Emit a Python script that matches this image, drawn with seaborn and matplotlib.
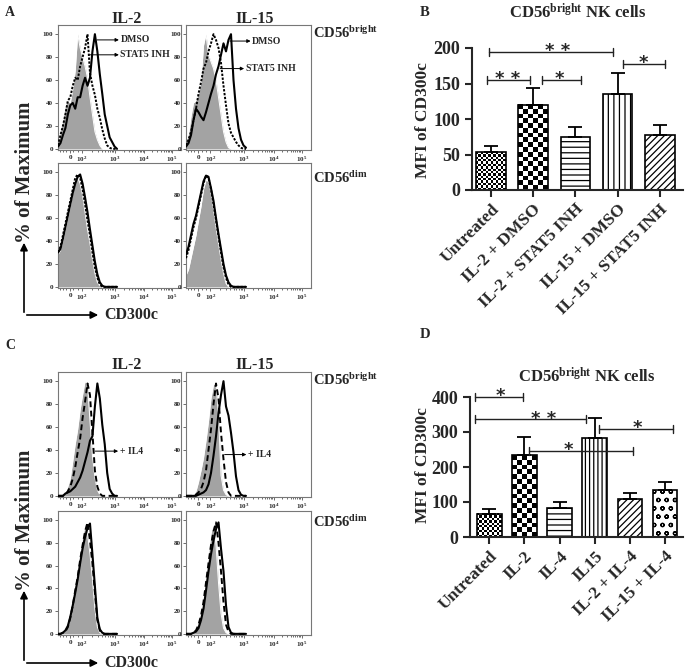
import matplotlib
matplotlib.use("Agg")
import matplotlib.pyplot as plt
import numpy as np
import seaborn as sns

sns.set_theme(style="ticks")
plt.rcParams["font.family"] = ["Liberation Serif", "DejaVu Serif"]
plt.rcParams["font.weight"] = "bold"
plt.rcParams["mathtext.fontset"] = "custom"
plt.rcParams["mathtext.rm"] = "Liberation Serif:bold"
plt.rcParams["mathtext.bf"] = "Liberation Serif:bold"
plt.rcParams["mathtext.it"] = "Liberation Serif:bold:italic"
plt.rcParams["mathtext.default"] = "bf"
plt.rcParams["hatch.linewidth"] = 0.9

# ---- histogram data (% of max vs. display channel) ----
CHANNEL = [0, 20, 40, 60, 80, 100, 120, 140, 160, 180, 200, 220, 240,
           260, 280, 300, 320, 340, 360, 380, 400, 420, 440, 460, 480]

A_IL2_BRIGHT_CTRL = [5, 15, 25, 38, 42, 40, 52, 68, 100, 88, 80, 72, 62, 45, 30, 15, 8, 3, 0, 0, 0, 0, 0, 0, 0]
A_IL2_BRIGHT_STAT5 = [3, 12, 20, 30, 42, 45, 55, 62, 60, 72, 80, 88, 100, 66, 55, 47, 35, 27, 17, 9, 3, 1, 0, 0, 0]
A_IL2_BRIGHT_DMSO = [2, 5, 12, 18, 30, 38, 40, 35, 45, 45, 55, 62, 55, 62, 85, 100, 85, 65, 48, 30, 20, 10, 6, 2, 0]

A_IL15_BRIGHT_CTRL = [5, 12, 28, 40, 42, 48, 58, 90, 100, 82, 76, 70, 60, 45, 30, 15, 6, 1, 0, 0, 0, 0, 0, 0, 0]
A_IL15_BRIGHT_STAT5 = [3, 8, 15, 25, 35, 48, 58, 70, 75, 85, 92, 100, 95, 88, 75, 55, 38, 22, 14, 10, 6, 3, 1, 0, 0]
A_IL15_BRIGHT_DMSO = [2, 5, 12, 25, 35, 32, 28, 25, 32, 40, 48, 55, 65, 72, 82, 92, 85, 95, 100, 60, 35, 18, 8, 3, 1]

A_IL2_DIM_CTRL = [28, 32, 40, 50, 60, 70, 82, 92, 95, 90, 80, 65, 50, 38, 24, 12, 4, 1, 0, 0, 0, 0, 0, 0, 0]
A_IL2_DIM_STAT5 = [30, 35, 45, 55, 65, 75, 85, 95, 98, 95, 85, 72, 58, 45, 30, 17, 8, 2, 0, 0, 0, 0, 0, 0, 0]
A_IL2_DIM_DMSO = [30, 33, 42, 52, 62, 72, 82, 90, 96, 98, 90, 78, 65, 50, 36, 22, 11, 4, 1, 0, 0, 0, 0, 0, 0]

A_IL15_DIM_CTRL = [10, 15, 25, 35, 45, 58, 70, 85, 93, 92, 82, 68, 52, 38, 24, 12, 3, 0, 0, 0, 0, 0, 0, 0, 0]
A_IL15_DIM_STAT5 = [25, 32, 42, 52, 60, 70, 80, 90, 97, 95, 85, 72, 58, 44, 30, 17, 8, 2, 0, 0, 0, 0, 0, 0, 0]
A_IL15_DIM_DMSO = [28, 35, 45, 55, 62, 72, 82, 92, 97, 96, 86, 75, 60, 46, 33, 20, 10, 4, 1, 0, 0, 0, 0, 0, 0]

C_IL2_BRIGHT_CTRL = [0, 0, 1, 3, 8, 15, 30, 45, 58, 75, 88, 100, 97, 65, 35, 16, 5, 1, 0, 0, 0, 0, 0, 0, 0]
C_IL2_BRIGHT_IL4 = [0, 0, 0, 1, 4, 8, 15, 25, 38, 50, 68, 82, 98, 88, 55, 22, 8, 2, 0, 0, 0, 0, 0, 0, 0]
C_IL2_BRIGHT_CYT = [0, 0, 0, 2, 3, 4, 6, 8, 12, 16, 22, 30, 38, 48, 52, 78, 98, 85, 62, 45, 20, 6, 2, 0, 0]

C_IL15_BRIGHT_CTRL = [0, 0, 0, 1, 4, 12, 22, 33, 48, 65, 85, 97, 98, 70, 18, 5, 1, 0, 0, 0, 0, 0, 0, 0, 0]
C_IL15_BRIGHT_IL4 = [0, 0, 0, 0, 1, 3, 6, 12, 22, 40, 58, 80, 98, 85, 55, 32, 12, 3, 0, 0, 0, 0, 0, 0, 0]
C_IL15_BRIGHT_CYT = [0, 0, 0, 0, 0, 1, 2, 3, 5, 10, 20, 35, 52, 72, 88, 100, 78, 70, 55, 38, 17, 5, 1, 0, 0]

C_IL2_DIM_CTRL = [0, 0, 1, 3, 8, 16, 28, 40, 52, 70, 85, 95, 88, 70, 48, 22, 6, 1, 0, 0, 0, 0, 0, 0, 0]
C_IL2_DIM_IL4 = [0, 0, 1, 2, 6, 14, 25, 38, 50, 65, 78, 90, 98, 82, 62, 36, 12, 3, 0, 0, 0, 0, 0, 0, 0]
C_IL2_DIM_CYT = [0, 0, 1, 3, 7, 15, 25, 36, 48, 62, 75, 85, 93, 97, 70, 42, 14, 4, 1, 0, 0, 0, 0, 0, 0]

C_IL15_DIM_CTRL = [0, 0, 0, 2, 5, 10, 18, 30, 48, 70, 88, 97, 78, 45, 18, 5, 1, 0, 0, 0, 0, 0, 0, 0, 0]
C_IL15_DIM_IL4 = [0, 0, 0, 1, 3, 8, 16, 28, 45, 62, 78, 90, 98, 80, 55, 28, 8, 2, 0, 0, 0, 0, 0, 0, 0]
C_IL15_DIM_CYT = [0, 0, 0, 1, 2, 5, 12, 22, 38, 55, 70, 82, 92, 98, 75, 55, 25, 6, 1, 0, 0, 0, 0, 0, 0]

HIST_XTICKS = [98, 194, 462, 700, 926]
HIST_XLABELS = ["0", "$10^2$", "$10^3$", "$10^4$", "$10^5$"]
HIST_YTICKS = [0, 20, 40, 60, 80, 100]

# ---- bar data ----
B_LABELS = ["Untreated", "IL-2 + DMSO", "IL-2 + STAT5 INH", "IL-15 + DMSO", "IL-15 + STAT5 INH"]
B_MEAN = [53, 120, 75, 135.5, 77.5]
B_SEM = [9.5, 24, 13.5, 29, 13.5]
B_SIG_X0 = [-0.05, -0.09, 1.20, 3.13]
B_SIG_X1 = [2.89, 0.92, 2.14, 4.12]
B_SIG_Y = [195, 155, 155, 177]
B_SIG_STAR_X = [1.57, 0.40, 1.62, 3.62]
B_SIG_TEXT = ["* *", "* *", "*", "*"]

D_LABELS = ["Untreated", "IL-2", "IL-4", "IL15", "IL-2 + IL-4", "IL-15 + IL-4"]
D_MEAN = [67, 233, 82, 284, 108, 133]
D_SEM = [12, 53, 17, 57, 19, 25]
D_SIG_X0 = [-0.41, -0.41, 1.13, 3.13]
D_SIG_X1 = [0.96, 2.75, 4.10, 5.22]
D_SIG_Y = [400, 336, 247, 309]
D_SIG_STAR_X = [0.32, 1.55, 2.24, 4.22]
D_SIG_TEXT = ["*", "* *", "*", "*"]

W, H = 685, 671
fig = plt.figure(figsize=(W / 100, H / 100), dpi=100)


def px_axes(x0, y0, x1, y1):
    return fig.add_axes([x0 / W, 1 - y1 / H, (x1 - x0) / W, (y1 - y0) / H])


def ftext(x, y, s, **kw):
    fig.text(x / W, 1 - y / H, s, **kw)


def farrow(x0, y0, x1, y1):
    fig.add_artist(matplotlib.patches.FancyArrowPatch(
        (x0 / W, 1 - y0 / H), (x1 / W, 1 - y1 / H), transform=fig.transFigure,
        arrowstyle="-|>", mutation_scale=11, color="black", lw=1.2))


def draw_hist(ax, ctrl, treat, base, treat_style):
    ax.fill_between(CHANNEL, ctrl, color="#a3a3a3", linewidth=0, zorder=1)
    sns.lineplot(x=CHANNEL, y=ctrl, ax=ax, color="white", linewidth=0.7, zorder=2)
    sns.lineplot(x=CHANNEL, y=treat, ax=ax, color="black", linewidth=1.4,
                 linestyle=treat_style, zorder=3)
    sns.lineplot(x=CHANNEL, y=base, ax=ax, color="black", linewidth=1.5, zorder=4)
    ax.set_xlim(0, 1000)
    ax.set_ylim(-1, 108)
    ax.set_xticks(HIST_XTICKS)
    ax.set_xticklabels(HIST_XLABELS)
    minor = [15, 40, 65, 125, 160]
    for a, b in zip(HIST_XTICKS[1:], HIST_XTICKS[2:]):
        minor += [a + (b - a) * np.log10(m) for m in range(2, 10)]
    ax.set_xticks(minor, minor=True)
    ax.set_yticks(HIST_YTICKS)
    ax.tick_params(axis="both", which="both", direction="out", width=0.6,
                   color="#555555", labelsize=5, pad=1)
    ax.tick_params(axis="both", which="major", length=2.5)
    ax.tick_params(axis="x", which="minor", length=1.5)
    for sp in ax.spines.values():
        sp.set_color("#777777")
        sp.set_linewidth(0.8)
    ax.set_xlabel("")
    ax.set_ylabel("")


def arrow_label(ax, x_tail, x_head, y, text):
    ax.annotate("", xy=(x_head, y), xytext=(x_tail, y),
                arrowprops=dict(arrowstyle="-|>", color="black", lw=0.7,
                                mutation_scale=5, shrinkA=0, shrinkB=0), zorder=6)
    ax.text(x_head + 12, y, text, fontsize=7, fontweight="bold", va="center", ha="left")


def fill_checker(ax, patch, cell_px):
    x0, y0 = patch.get_x(), patch.get_y()
    w, h = patch.get_width(), patch.get_height()
    p0 = ax.transData.transform((x0, y0))
    p1 = ax.transData.transform((x0 + w, y0 + h))
    ncols = max(1, int(round(abs(p1[0] - p0[0]) / cell_px)))
    nrows = max(1, int(round(abs(p1[1] - p0[1]) / cell_px)))
    board = np.add.outer(np.arange(nrows), np.arange(ncols)) % 2
    ax.imshow(board, extent=(x0, x0 + w, y0, y0 + h), cmap="gray",
              interpolation="nearest", aspect="auto", zorder=0.8)
    patch.set_facecolor("none")
    patch.set_zorder(1.5)


def draw_bars(ax, labels, means, sems, fills, xlim, ylim, yticks):
    sns.barplot(x=labels, y=means, ax=ax, color="white", edgecolor="black",
                linewidth=1.2, width=0.7, errorbar=None, saturation=1)
    ax.set_xlim(*xlim)
    ax.set_ylim(*ylim)
    for patch, fill in zip(ax.patches, fills):
        if fill == "fine":
            fill_checker(ax, patch, 2.4)
        elif fill == "checker":
            fill_checker(ax, patch, 4.8)
        else:
            patch.set_hatch(fill)
    n = len(means)
    ax.errorbar(range(n), means, yerr=[np.zeros(n), sems], fmt="none",
                ecolor="black", elinewidth=1.3, capsize=5, capthick=1.3, zorder=5)
    ax.set_yticks(yticks)
    ax.set_xticks(range(n))
    ax.set_xticklabels(labels, rotation=45, ha="right", rotation_mode="anchor",
                       fontsize=12.5, fontweight="bold")
    ax.tick_params(axis="y", labelsize=13, length=5, width=1.5, direction="out")
    ax.tick_params(axis="x", length=5, width=1.5, direction="out", pad=3)
    sns.despine(ax=ax)
    ax.spines["left"].set_linewidth(1.5)
    ax.spines["bottom"].set_linewidth(1.5)
    ax.set_xlabel("")
    ax.set_ylabel("")


def sig_bracket(ax, x0, x1, y, star_x, text):
    t = ax.transData
    ppu = abs(t.transform((0, 1))[1] - t.transform((0, 0))[1])
    dy = 4 / ppu
    kw = dict(color="#222222", lw=1.0, clip_on=False, zorder=6)
    ax.plot([x0, x1], [y, y], **kw)
    ax.plot([x0, x0], [y - dy, y + dy], **kw)
    ax.plot([x1, x1], [y - dy, y + dy], **kw)
    ax.annotate(text, xy=(star_x, y), xytext=(0, -3), textcoords="offset points",
                ha="center", va="baseline", fontsize=13, fontweight="bold",
                family="DejaVu Sans", zorder=7)


# ---- panels A and C ----
COLS = [(58, 181), (186, 311)]
hist_sets = [
    ((25, 150), (163, 288), (0, (1.2, 0.8)),
     [[A_IL2_BRIGHT_CTRL, A_IL2_BRIGHT_STAT5, A_IL2_BRIGHT_DMSO],
      [A_IL15_BRIGHT_CTRL, A_IL15_BRIGHT_STAT5, A_IL15_BRIGHT_DMSO]],
     [[A_IL2_DIM_CTRL, A_IL2_DIM_STAT5, A_IL2_DIM_DMSO],
      [A_IL15_DIM_CTRL, A_IL15_DIM_STAT5, A_IL15_DIM_DMSO]]),
    ((372, 497), (511, 635), (0, (3, 1.8)),
     [[C_IL2_BRIGHT_CTRL, C_IL2_BRIGHT_IL4, C_IL2_BRIGHT_CYT],
      [C_IL15_BRIGHT_CTRL, C_IL15_BRIGHT_IL4, C_IL15_BRIGHT_CYT]],
     [[C_IL2_DIM_CTRL, C_IL2_DIM_IL4, C_IL2_DIM_CYT],
      [C_IL15_DIM_CTRL, C_IL15_DIM_IL4, C_IL15_DIM_CYT]]),
]
hist_axes = []
for top_rows, bot_rows, style, bright, dim in hist_sets:
    row_axes = []
    for (y0, y1), curves in ((top_rows, bright), (bot_rows, dim)):
        axs = []
        for (x0, x1), (ctrl, treat, base) in zip(COLS, curves):
            ax = px_axes(x0, y0, x1, y1)
            draw_hist(ax, ctrl, treat, base, style)
            axs.append(ax)
        row_axes.append(axs)
    hist_axes.append(row_axes)

axA, axC = hist_axes
arrow_label(axA[0][0], 317, 495, 95, "DMSO")
arrow_label(axA[0][0], 249, 495, 82, "STAT5 INH")
arrow_label(axA[0][1], 352, 517, 94, "DMSO")
arrow_label(axA[0][1], 273, 465, 70, "STAT5 INH")
arrow_label(axC[0][0], 303, 489, 39, "+ IL4")
arrow_label(axC[0][1], 309, 483, 36, "+ IL4")

for top in (23, 369):
    ftext(127, top, "IL-2", fontsize=11.5, fontweight="bold", ha="center", va="baseline")
    ftext(255, top, "IL-15", fontsize=11.5, fontweight="bold", ha="center", va="baseline")

ftext(313, 38, "CD56$^{bright}$", fontsize=10.5, fontweight="bold", va="baseline")
ftext(313, 183, "CD56$^{dim}$", fontsize=10.5, fontweight="bold", va="baseline")
ftext(313, 385, "CD56$^{bright}$", fontsize=10.5, fontweight="bold", va="baseline")
ftext(313, 527, "CD56$^{dim}$", fontsize=10.5, fontweight="bold", va="baseline")

for ymid, yarrow, ytop in ((172, 315, 240), (520, 663, 588)):
    ftext(25, ymid, "% of Maximum", fontsize=15, fontweight="bold", rotation=90,
          ha="center", va="center")
    farrow(24, yarrow, 24, ytop)
    farrow(24, yarrow, 101, yarrow)
    ftext(104, yarrow, "CD300c", fontsize=11.5, fontweight="bold", va="center")

ftext(5, 16, "A", fontsize=10, fontweight="bold")
ftext(5, 349, "C", fontsize=10, fontweight="bold")
ftext(420, 16, "B", fontsize=10.5, fontweight="bold")
ftext(420, 338, "D", fontsize=10.5, fontweight="bold")

# ---- panel B ----
axB = px_axes(472, 48, 683, 190)
draw_bars(axB, B_LABELS, B_MEAN, B_SEM, ["fine", "checker", "---", "|||", "/////"],
          (-0.45, 4.55), (0, 200), [0, 50, 100, 150, 200])
for x0, x1, y, sx, s in zip(B_SIG_X0, B_SIG_X1, B_SIG_Y, B_SIG_STAR_X, B_SIG_TEXT):
    sig_bracket(axB, x0, x1, y, sx, s)
ftext(578, 18, "CD56$^{bright}$ NK cells", fontsize=12, fontweight="bold",
      ha="center", va="baseline")
ftext(423, 120, "MFI of CD300c", fontsize=12.5, fontweight="bold", rotation=90,
      ha="center", va="center")

# ---- panel D ----
axD = px_axes(470, 397, 683, 537)
draw_bars(axD, D_LABELS, D_MEAN, D_SEM, ["fine", "checker", "---", "||||", "/////", "oo"],
          (-0.55, 5.51), (0, 400), [0, 100, 200, 300, 400])
for x0, x1, y, sx, s in zip(D_SIG_X0, D_SIG_X1, D_SIG_Y, D_SIG_STAR_X, D_SIG_TEXT):
    sig_bracket(axD, x0, x1, y, sx, s)
ftext(587, 382, "CD56$^{bright}$ NK cells", fontsize=12, fontweight="bold",
      ha="center", va="baseline")
ftext(423, 465, "MFI of CD300c", fontsize=12.5, fontweight="bold", rotation=90,
      ha="center", va="center")

fig.savefig("out.png", dpi=100)
